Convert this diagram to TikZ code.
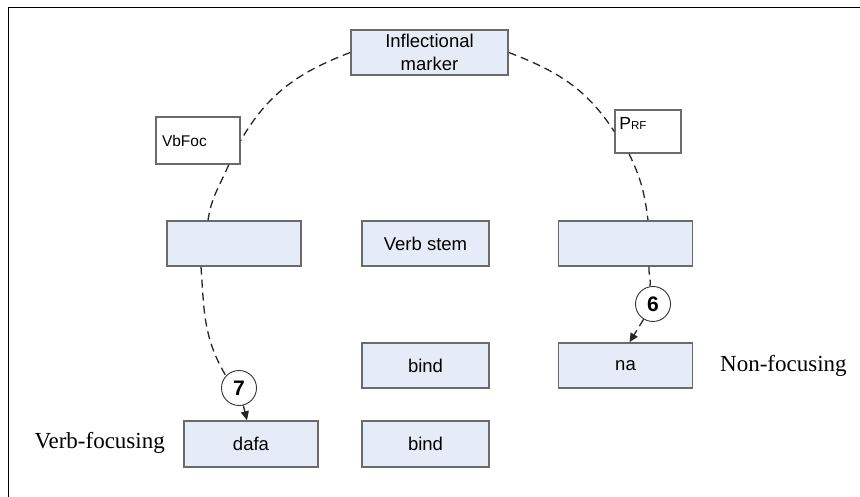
\documentclass[tikz,border=0pt]{standalone}
\usepackage{fontspec}
\setmainfont{Liberation Sans}
\newfontfamily\labserif{Liberation Serif}
\usetikzlibrary{arrows.meta,calc}
\definecolor{boxfill}{HTML}{E6ECF7}
\definecolor{boxline}{HTML}{6A6A6A}
\begin{document}
\begin{tikzpicture}[x=1pt,y=1pt,
  bluebox/.style={draw=boxline,line width=1.5pt,fill=boxfill,minimum width=134pt,minimum height=45pt,inner sep=0pt,align=center,font=\fontsize{18.5}{22.5}\selectfont},
  whitebox/.style={draw=boxline,line width=1.5pt,fill=white,inner sep=0pt},
  numcirc/.style={circle,draw=black!80,line width=0.9pt,fill=white,minimum size=35pt,inner sep=0pt,font=\bfseries\fontsize{21}{24}\selectfont},
  dashcon/.style={draw=black!85,line width=1.3pt,dash pattern=on 8pt off 5pt},
  arrowhd/.style={-{Triangle[length=9pt,width=8pt]}},
  sidelab/.style={font=\labserif\fontsize{23}{26}\selectfont,inner sep=0pt}]
\useasboundingbox (0,0) rectangle (860,497);
% frame
\draw[line width=1.5pt] (860,489.5) -- (8.5,489.5) -- (8.5,0);
% boxes
\node[bluebox,minimum width=157pt] (im) at (429.5,444.5) {Inflectional\\marker};
\node[whitebox,minimum width=84pt,minimum height=47pt,text width=72pt,align=left,font=\fontsize{15.5}{18}\selectfont] (vb) at (198,356.5) {VbFoc};
\node[whitebox,minimum width=66pt,minimum height=43pt,
  label={[anchor=north west,inner sep=0pt,xshift=5pt,yshift=-8pt]north west:{\fontsize{17.5}{19}\selectfont P\fontsize{11.5}{13}\selectfont RF}}] (pr) at (648,365.5) {};
\node[bluebox] (lb) at (234,253.5) {};
\node[bluebox,minimum width=127pt] (vs) at (425.5,253.5) {Verb stem};
\node[bluebox] (rb) at (625.5,253.5) {};
\node[bluebox,minimum width=127pt] (b1) at (425.5,131.5) {bind};
\node[bluebox] (na) at (625.5,131.5) {na};
\node[bluebox,minimum height=46pt] (dafa) at (251,53) {dafa};
\node[bluebox,minimum width=127pt,minimum height=46pt] (b2) at (425.5,53) {bind};
\node[numcirc] (c7) at (239,109) {7};
\node[numcirc] (c6) at (653,193) {6};
\node[sidelab,anchor=east] (vf) at (165,54) {Verb-focusing};
\node[sidelab,anchor=west] (nf) at (720,131) {Non-focusing};
% connectors
\draw[dashcon] (im.west) to[out=201,in=60] (vb.east);
\draw[dashcon] ([xshift=-12pt]vb.south east) to[out=247,in=82] ([xshift=-26pt]lb.north);
\draw[dashcon] ([xshift=-33pt]lb.south) to[out=274,in=121] (c7.137);
\draw[dashcon,arrowhd] (c7) -- ([xshift=-4pt]dafa.north);
\draw[dashcon] (im.east) to[out=-21,in=123] (pr.west);
\draw[dashcon] ([xshift=-19pt]pr.south) to[out=-64,in=97] ([xshift=22.5pt]rb.north);
\draw[dashcon] ([xshift=23.5pt]rb.south) to[out=-94,in=80] (c6.100);
\draw[dashcon,arrowhd] (c6) -- ([xshift=4pt]na.north);
\end{tikzpicture}
\end{document}
